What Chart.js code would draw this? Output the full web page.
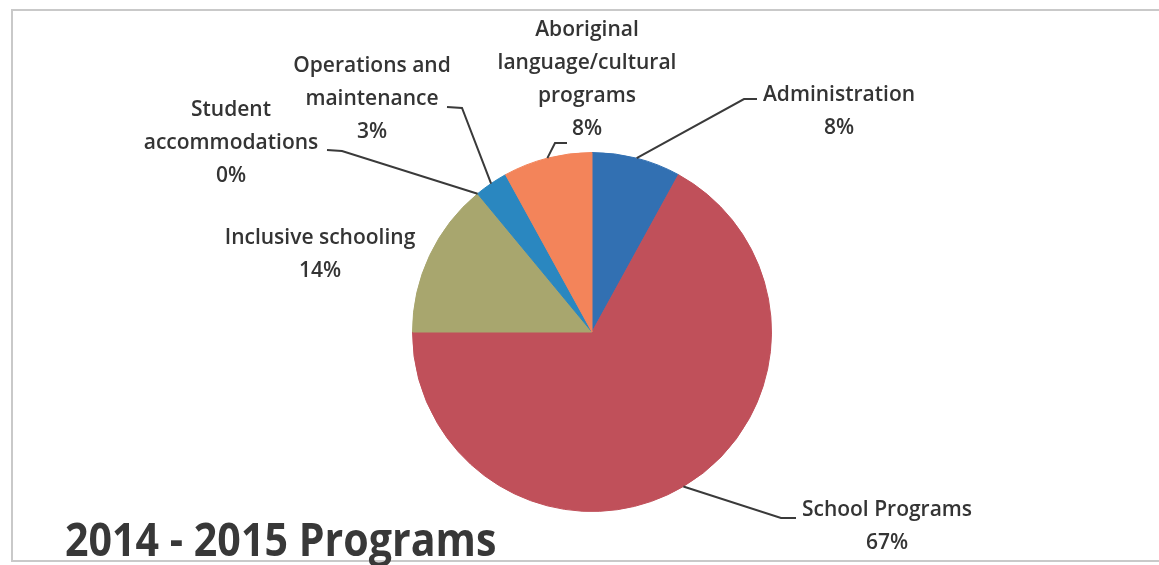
<!DOCTYPE html>
<html>
<head>
<meta charset="utf-8">
<title>2014 - 2015 Programs</title>
<script src="https://cdn.jsdelivr.net/npm/chart.js@4.4.1/dist/chart.umd.min.js"></script>
<style>
  html, body { margin: 0; padding: 0; background: #fff; }
  canvas { display: block; }
</style>
</head>
<body>
<canvas id="programsChart" width="1159" height="565"></canvas>
<script>
'use strict';

// spending share per program, percent of total
const categories = ['Administration', 'School Programs', 'Inclusive schooling', 'Student accommodations', 'Operations and maintenance', 'Aboriginal language/cultural programs'];
const shares = [8, 67, 14, 0, 3, 8];
const sliceColors = ['#3270b2', '#c0505a', '#a8a66e', '#7f62a0', '#2a87c0', '#f3845a'];
const chartTitle = '2014 - 2015 Programs';

// how each category name wraps, and where its label and leader sit
const labelLines = [
  ['Administration'],
  ['School Programs'],
  ['Inclusive schooling'],
  ['Student', 'accommodations'],
  ['Operations and', 'maintenance'],
  ['Aboriginal', 'language/cultural', 'programs']
];
const labelSpots = [
  { x: 839, y: 95, leader: [[757, 99], [744, 99]] },
  { x: 887, y: 510, leader: [[796, 518], [781, 518]] },
  { x: 320, y: 238, leader: null },
  { x: 231, y: 110, leader: [[327, 150], [342, 151]] },
  { x: 372, y: 66, leader: [[447, 107], [462, 108]] },
  { x: 587, y: 30, leader: [[567, 143], [555, 143]] }
];

const textColor = '#343434';
const lineGap = 33;

function squeezedText( ctx, text, x, y, squeeze ) {
  ctx.save();
  ctx.translate( x, y );
  ctx.scale( squeeze, 1 );
  ctx.fillText( text, 0, 0 );
  ctx.restore();
}

const calloutPlugin = {
  id: 'callouts',
  beforeDraw( chart ) {
    const ctx = chart.ctx;
    ctx.save();
    ctx.fillStyle = '#fff';
    ctx.fillRect( 0, 0, chart.width, chart.height );
    // frame around the plot
    ctx.strokeStyle = '#c9c9c9';
    ctx.lineWidth = 2;
    ctx.strokeRect( 12, 10, chart.width + 20, 551 );
    ctx.restore();
  },
  afterDraw( chart ) {
    const ctx = chart.ctx;
    const arcs = chart.getDatasetMeta( 0 ).data;
    const total = shares.reduce( ( a, b ) => a + b, 0 );

    ctx.save();
    ctx.fillStyle = textColor;
    ctx.strokeStyle = '#3a3a3a';
    ctx.lineWidth = 2;
    ctx.textAlign = 'center';
    ctx.textBaseline = 'middle';
    ctx.font = '600 21px "Open Sans"';

    for ( let i = 0; i < categories.length; i++ ) {
      const spot = labelSpots[i];
      const lines = labelLines[i].concat( [ Math.round( shares[i] / total * 100 ) + '%' ] );
      for ( let j = 0; j < lines.length; j++ ) {
        squeezedText( ctx, lines[j], spot.x, spot.y + j * lineGap, 1.0 );
      }

      if ( spot.leader ) {
        const arc = arcs[i];
        const mid = ( arc.startAngle + arc.endAngle ) / 2;
        const ex = arc.x + Math.cos( mid ) * arc.outerRadius;
        const ey = arc.y + Math.sin( mid ) * arc.outerRadius;
        ctx.beginPath();
        ctx.moveTo( spot.leader[0][0], spot.leader[0][1] );
        ctx.lineTo( spot.leader[1][0], spot.leader[1][1] );
        ctx.lineTo( ex, ey );
        ctx.stroke();
      }
    }

    // title in the lower left corner
    ctx.textAlign = 'left';
    ctx.textBaseline = 'alphabetic';
    ctx.font = 'bold 46px "Open Sans"';
    ctx.fillStyle = '#383838';
    squeezedText( ctx, chartTitle, 65, 556, 0.895 );
    ctx.restore();
  }
};

const ctx = document.getElementById( 'programsChart' ).getContext( '2d' );
const programsChart = new Chart( ctx, {
  type: 'pie',
  data: {
    labels: categories,
    datasets: [{
      data: shares,
      backgroundColor: sliceColors,
      borderColor: sliceColors,
      borderWidth: 1
    }]
  },
  options: {
    responsive: false,
    devicePixelRatio: 1,
    animation: false,
    layout: {
      padding: { left: 412, right: 387, top: 152, bottom: 53 }
    },
    plugins: {
      legend: { display: false },
      tooltip: { enabled: false },
      title: { display: false }
    }
  },
  plugins: [ calloutPlugin ]
});
</script>
</body>
</html>
